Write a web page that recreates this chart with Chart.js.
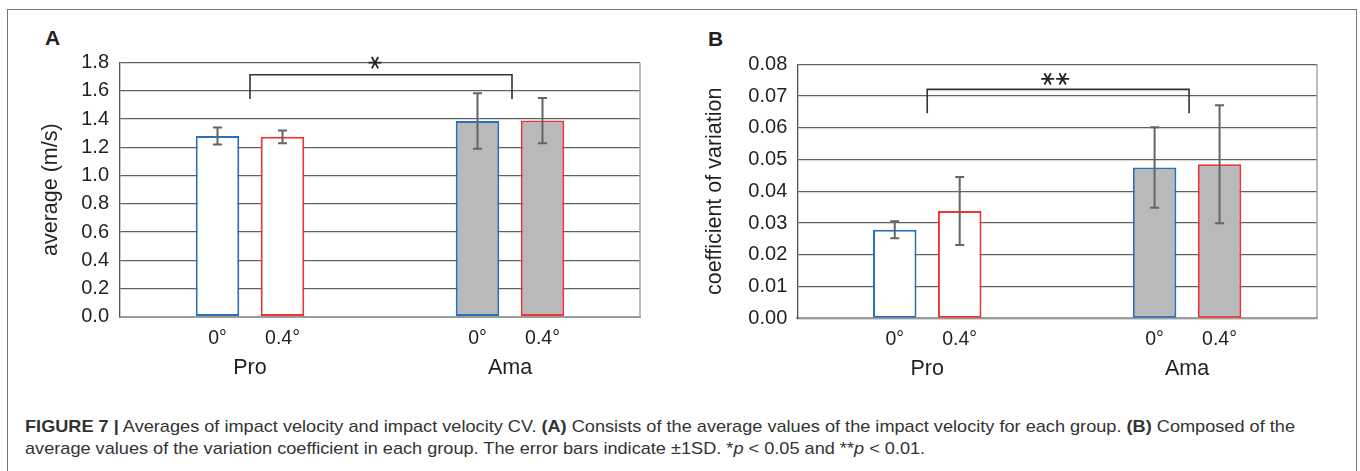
<!DOCTYPE html>
<html>
<head>
<meta charset="utf-8">
<script src="https://cdn.jsdelivr.net/npm/chart.js@4.4.1/dist/chart.umd.min.js"></script>
<style>
  html, body { margin: 0; padding: 0; background: #fff; }
  body { width: 1360px; height: 471px; position: relative; overflow: hidden;
         font-family: "Liberation Sans", Arial, sans-serif; color: #231f20; }
  #frame { position: absolute; left: 7px; top: 9px; width: 1350px; height: 480px;
           border: 1.5px solid #777; box-sizing: border-box; }
  .panel { position: absolute; top: 0; width: 680px; height: 400px; }
  .tag { position: absolute; font-weight: bold; font-size: 21px; line-height: 21px; }
  .cap { position: absolute; left: 25px; font-size: 17px; line-height: 20px; white-space: nowrap;
         transform-origin: 0 50%; color: #333; }
</style>
</head>
<body>
<div id="frame"></div>
<div class="tag" style="left:45px; top:27px">A</div>
<div class="tag" style="left:708px; top:28px">B</div>
<div class="panel" style="left:0"><canvas id="chartA" width="680" height="400"></canvas></div>
<div class="panel" style="left:680px"><canvas id="chartB" width="680" height="400"></canvas></div>
<div class="cap" id="cap1" style="top:417px"><b>FIGURE 7 |</b> Averages of impact velocity and impact velocity CV. <b>(A)</b> Consists of the average values of the impact velocity for each group. <b>(B)</b> Composed of the</div>
<div class="cap" id="cap2" style="top:439px">average values of the variation coefficient in each group. The error bars indicate ±1SD. *<i>p</i> &lt; 0.05 and **<i>p</i> &lt; 0.01.</div>
<script>
// data
const groups = ["Pro", "Ama"];
const angles = ["0°", "0.4°"];

const velocity0 = [1.28, 1.387];
const velocity04 = [1.275, 1.39];
const velocitySd0 = [0.06, 0.197];
const velocitySd04 = [0.045, 0.16];

const cv0 = [0.0279, 0.0475];
const cv04 = [0.0338, 0.0485];
const cvSd0 = [0.0027, 0.0127];
const cvSd04 = [0.0107, 0.0186];

// significance brackets: [bar top, leg end, star level]
const sigA = [1.715, 1.543, 1.8];
const sigB = [0.0721, 0.0646, 0.0754];

Chart.defaults.font.family = '"Liberation Sans", Arial, sans-serif';
Chart.defaults.color = "#231f20";

const fills = ["#ffffff", "#b8b9bb"];

function drawStar(ctx, cx, cy, r) {
  ctx.beginPath();
  for (let k = 0; k < 3; k++) {
    const ang = (k * Math.PI) / 3;
    ctx.moveTo(cx - r * Math.cos(ang), cy - r * Math.sin(ang));
    ctx.lineTo(cx + r * Math.cos(ang), cy + r * Math.sin(ang));
  }
  ctx.stroke();
}

const extras = {
  id: "extras",
  afterDatasetsDraw(chart, args, opts) {
    const { ctx, chartArea: a } = chart;
    const x = chart.scales.x;
    const y = chart.scales.y;
    ctx.save();
    // right edge of plot
    ctx.strokeStyle = "#a6a6a6";
    ctx.lineWidth = 1.5;
    ctx.beginPath();
    ctx.moveTo(a.right, a.top);
    ctx.lineTo(a.right, a.bottom);
    ctx.stroke();

    // error bars and angle labels
    chart.data.datasets.forEach((ds, i) => {
      chart.getDatasetMeta(i).data.forEach((bar, j) => {
        const hi = y.getPixelForValue(ds.data[j] + ds.sd[j]);
        const lo = y.getPixelForValue(ds.data[j] - ds.sd[j]);
        ctx.strokeStyle = "#656565";
        ctx.lineWidth = 2;
        ctx.beginPath();
        ctx.moveTo(bar.x, hi);
        ctx.lineTo(bar.x, lo);
        ctx.moveTo(bar.x - 4.5, hi);
        ctx.lineTo(bar.x + 4.5, hi);
        ctx.moveTo(bar.x - 4.5, lo);
        ctx.lineTo(bar.x + 4.5, lo);
        ctx.stroke();
        ctx.fillStyle = "#231f20";
        ctx.font = '19.5px "Liberation Sans", Arial, sans-serif';
        ctx.textAlign = "center";
        ctx.textBaseline = "middle";
        ctx.fillText(ds.label, bar.x, a.bottom + 21.5);
      });
    });

    // significance bracket
    const sig = opts.sig;
    const x0 = x.getPixelForValue(0);
    const x1 = x.getPixelForValue(1) + 2;
    const yt = y.getPixelForValue(sig[0]);
    const yl = y.getPixelForValue(sig[1]);
    ctx.strokeStyle = "#333";
    ctx.lineWidth = 1.6;
    ctx.beginPath();
    ctx.moveTo(x0, yl);
    ctx.lineTo(x0, yt);
    ctx.lineTo(x1, yt);
    ctx.lineTo(x1, yl);
    ctx.stroke();
    const ys = y.getPixelForValue(sig[2]);
    const xm = (x0 + x1) / 2 + opts.starDx;
    ctx.lineWidth = 1.8;
    ctx.strokeStyle = "#222";
    for (let k = 0; k < opts.stars; k++) {
      drawStar(ctx, xm + (k - (opts.stars - 1) / 2) * 15, ys, 6.5);
    }
    ctx.restore();
  },
};

function makeChart(id, s0, s1, sd0, sd1, cfg) {
  return new Chart(document.getElementById(id), {
    type: "bar",
    data: {
      labels: groups,
      datasets: [
        { label: angles[0], data: s0, sd: sd0, backgroundColor: fills, borderColor: "#2a70b8" },
        { label: angles[1], data: s1, sd: sd1, backgroundColor: fills, borderColor: "#ee3535" },
      ],
    },
    options: {
      responsive: false,
      animation: false,
      layout: { padding: cfg.padding },
      datasets: {
        bar: { categoryPercentage: 0.5, barPercentage: 0.67, borderWidth: 2, borderSkipped: false },
      },
      plugins: {
        legend: { display: false },
        tooltip: { enabled: false },
        extras: { sig: cfg.sig, stars: cfg.stars, starDx: cfg.starDx },
      },
      scales: {
        x: {
          grid: { display: false },
          border: { color: "#9c9c9c", width: 2 },
          ticks: { font: { size: 21.5 }, padding: 30, color: "#231f20" },
          afterFit: (scale) => { scale.height = cfg.xHeight; },
        },
        y: {
          min: 0,
          max: cfg.max,
          ticks: {
            stepSize: cfg.step,
            padding: cfg.tickPad,
            font: { size: 20 },
            color: "#231f20",
            callback: (v) => v.toFixed(cfg.digits),
          },
          grid: { color: "#616161", lineWidth: 1.3, drawTicks: false },
          border: { color: "#555", width: 1.3 },
          title: {
            display: true,
            text: cfg.title,
            font: { size: 21.5 },
            color: "#231f20",
            padding: { top: cfg.titlePad, bottom: 0 },
          },
          afterFit: (scale) => { scale.width = cfg.yWidth; },
        },
      },
    },
    plugins: [extras],
  });
}

makeChart("chartA", velocity0, velocity04, velocitySd0, velocitySd04, {
  padding: { left: 30, right: 40, top: 62.7, bottom: 0 },
  yWidth: 90, xHeight: 400 - 316.7, titlePad: 8.2, tickPad: 11,
  max: 1.8, step: 0.2, digits: 1, title: "average (m/s)",
  sig: sigA, stars: 1, starDx: -6,
});

makeChart("chartB", cv0, cv04, cvSd0, cvSd04, {
  padding: { left: 10, right: 43, top: 64.3, bottom: 0 },
  yWidth: 107.3, xHeight: 400 - 318.3, titlePad: 12.2, tickPad: 10,
  max: 0.08, step: 0.01, digits: 2, title: "coefficient of variation",
  sig: sigB, stars: 2, starDx: -3,
});

// fit caption lines to the printed width
const c1 = document.getElementById("cap1");
const c2 = document.getElementById("cap2");
const k = 1270 / c1.getBoundingClientRect().width;
c1.style.transform = "scaleX(" + k + ")";
c2.style.transform = "scaleX(" + k + ")";
</script>
</body>
</html>
